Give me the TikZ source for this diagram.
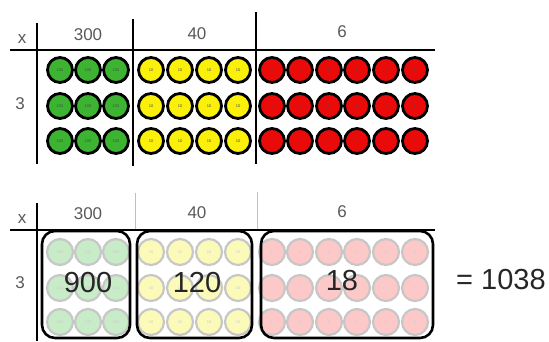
\documentclass[tikz,border=0pt]{standalone}
\usepackage{fontspec}
\setmainfont{Liberation Sans}
\begin{document}
\begin{tikzpicture}[x=1pt,y=-1pt,
  rule/.style={line width=2.8pt, black},
  faintrule/.style={line width=1pt, black!25},
  lbl/.style={text=black!65, font=\fontsize{17}{17}\selectfont, inner sep=0pt},
  big/.style={text=black!85, font=\fontsize{29}{29}\selectfont, inner sep=0pt},
  coin/.style={circle, draw=black, line width=2.8pt, minimum size=25pt, inner sep=0pt, text=black!70, font=\fontsize{4}{4}\selectfont},
  fcoin/.style={circle, draw=black!22, line width=2.2pt, minimum size=26pt, inner sep=0pt, text=black!20, font=\fontsize{4}{4}\selectfont},
  prodbox/.style={draw=black, line width=2.6pt, rounded corners=13pt}]
\useasboundingbox (0,0) rectangle (549,341);
\definecolor{cg}{RGB}{60,180,50}
\definecolor{cy}{RGB}{250,240,10}
\definecolor{cr}{RGB}{235,10,10}
\definecolor{fg}{RGB}{200,235,200}
\definecolor{fy}{RGB}{252,250,185}
\definecolor{fr}{RGB}{252,200,200}
% ---------- top table ----------
\coordinate (th0) at (10,50); \coordinate (th1) at (435,50);
\coordinate (tv1a) at (37,23); \coordinate (tv1b) at (37,164);
\coordinate (tv2a) at (133,19); \coordinate (tv2b) at (133,166);
\coordinate (tv3a) at (256,12); \coordinate (tv3b) at (256,164);
\draw[rule] (th0) -- (th1);
\draw[rule] (tv1a) -- (tv1b);
\draw[rule] (tv2a) -- (tv2b);
\draw[rule] (tv3a) -- (tv3b);
\node[lbl] (tx) at (22,39) {x};
\node[lbl] (t300) at (88,35) {300};
\node[lbl] (t40) at (197,34) {40};
\node[lbl] (t6) at (342,32) {6};
\node[lbl] (t3) at (20,104) {3};
\foreach \r/\yy in {1/70,2/106,3/141}{
  \foreach \c/\xx in {1/60,2/88,3/116}
    \node[coin, fill=cg] (g-\r-\c) at (\xx,\yy) {100};
  \foreach \c/\xx in {1/151,2/180,3/209,4/238}
    \node[coin, fill=cy] (y-\r-\c) at (\xx,\yy) {10};
  \foreach \c/\xx in {1/272,2/300,3/329,4/357,5/386,6/415}
    \node[coin, fill=cr] (r-\r-\c) at (\xx,\yy) {1};
}
% ---------- bottom table ----------
\coordinate (bh0) at (10,230); \coordinate (bh1) at (435,230);
\coordinate (bv1a) at (37,203); \coordinate (bv1b) at (37,341);
\coordinate (bv2a) at (135,193); \coordinate (bv2b) at (135,230);
\coordinate (bv3a) at (257,192); \coordinate (bv3b) at (257,230);
\draw[faintrule] (bv2a) -- (bv2b);
\draw[faintrule] (bv3a) -- (bv3b);
\foreach \r/\yy in {1/252,2/288,3/322}{
  \foreach \c/\xx in {1/60,2/88,3/116}
    \node[fcoin, fill=fg] (fg-\r-\c) at (\xx,\yy) {100};
  \foreach \c/\xx in {1/151,2/180,3/209,4/238}
    \node[fcoin, fill=fy] (fy-\r-\c) at (\xx,\yy) {10};
  \foreach \c/\xx in {1/272,2/300,3/329,4/357,5/386,6/415}
    \node[fcoin, fill=fr] (fr-\r-\c) at (\xx,\yy) {1};
}
\draw[rule] (bh0) -- (bh1);
\draw[rule] (bv1a) -- (bv1b);
\draw[prodbox] (42,231) rectangle (130,338);
\draw[prodbox] (137,231) rectangle (252,338);
\draw[prodbox] (261,231) rectangle (433,338);
\node[lbl] (bx) at (22,219) {x};
\node[lbl] (b300) at (88,214) {300};
\node[lbl] (b40) at (197,213) {40};
\node[lbl] (b6) at (342,212) {6};
\node[lbl] (b3) at (20,283) {3};
\node[big] (p900) at (88,283) {900};
\node[big] (p120) at (197,283) {120};
\node[big] (p18) at (342,281) {18};
\node[big, anchor=west] (sum) at (456,280) {= 1038};
\end{tikzpicture}
\end{document}
